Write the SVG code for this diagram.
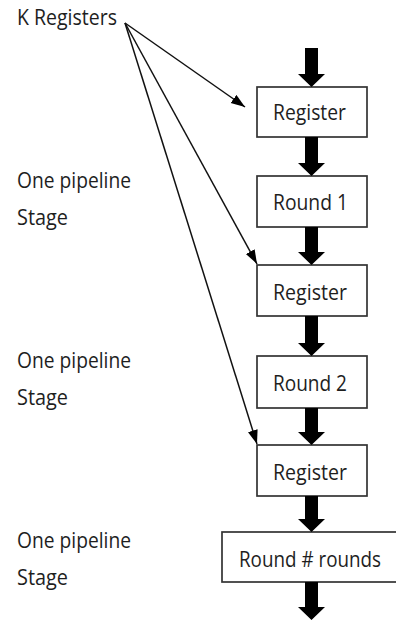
<svg xmlns="http://www.w3.org/2000/svg" width="396" height="624" viewBox="0 0 396 624">
<defs>
<style>
.bg{fill:#ffffff}
.box rect{fill:#ffffff;stroke:#333333;stroke-width:1.7}
text{font-family:"Open Sans","Noto Sans","Liberation Sans",sans-serif;font-size:21px;fill:#1e1e1e}
.thick{fill:#000000}
.thin{stroke:#111111;stroke-width:1.5;fill:none;marker-end:url(#ah)}
</style>
<marker id="ah" markerUnits="userSpaceOnUse" markerWidth="15" markerHeight="11" refX="14" refY="5" orient="auto">
<path d="M0,0 L14,5 L0,10 z" fill="#000000"/>
</marker>
</defs>
<rect class="bg" x="0" y="0" width="396" height="624"/>

<g id="label-k-registers"><text x="17" y="25" textLength="100" lengthAdjust="spacingAndGlyphs">K Registers</text></g>
<g id="label-stage-1"><text x="17" y="188" textLength="114" lengthAdjust="spacingAndGlyphs">One pipeline</text><text x="17" y="225" textLength="51" lengthAdjust="spacingAndGlyphs">Stage</text></g>
<g id="label-stage-2"><text x="17" y="368" textLength="114" lengthAdjust="spacingAndGlyphs">One pipeline</text><text x="17" y="405" textLength="51" lengthAdjust="spacingAndGlyphs">Stage</text></g>
<g id="label-stage-3"><text x="17" y="548" textLength="114" lengthAdjust="spacingAndGlyphs">One pipeline</text><text x="17" y="585" textLength="51" lengthAdjust="spacingAndGlyphs">Stage</text></g>

<g id="register-1" class="box"><rect x="257" y="87" width="110" height="50"/><text x="273" y="120" textLength="73" lengthAdjust="spacingAndGlyphs">Register</text></g>
<g id="round-1" class="box"><rect x="257" y="176" width="110" height="51"/><text x="273" y="210" textLength="75" lengthAdjust="spacingAndGlyphs">Round 1</text></g>
<g id="register-2" class="box"><rect x="257" y="265" width="110" height="51"/><text x="273" y="300" textLength="74" lengthAdjust="spacingAndGlyphs">Register</text></g>
<g id="round-2" class="box"><rect x="257" y="356" width="110" height="52"/><text x="273" y="391" textLength="74" lengthAdjust="spacingAndGlyphs">Round 2</text></g>
<g id="register-3" class="box"><rect x="257" y="445" width="110" height="51"/><text x="273" y="480" textLength="74" lengthAdjust="spacingAndGlyphs">Register</text></g>
<g id="round-n" class="box"><rect x="222" y="532" width="180" height="50"/><text x="239" y="567" textLength="142" lengthAdjust="spacingAndGlyphs">Round # rounds</text></g>

<g id="connectors">
<polygon class="thick" points="305,48 318,48 318,74 325,74 311.5,87 298,74 305,74"/>
<polygon class="thick" points="305,137 318,137 318,163 325,163 311.5,176 298,163 305,163"/>
<polygon class="thick" points="305,227 318,227 318,252 325,252 311.5,265 298,252 305,252"/>
<polygon class="thick" points="305,316 318,316 318,343 325,343 311.5,356 298,343 305,343"/>
<polygon class="thick" points="305,408 318,408 318,432 325,432 311.5,445 298,432 305,432"/>
<polygon class="thick" points="305,496 318,496 318,519 325,519 311.5,532 298,519 305,519"/>
<polygon class="thick" points="305,582 318,582 318,607 325,607 311.5,620 298,607 305,607"/>
<line class="thin" x1="125" y1="23" x2="245" y2="107"/>
<line class="thin" x1="125" y1="23" x2="257" y2="264"/>
<line class="thin" x1="125" y1="23" x2="257" y2="444"/>
</g>
</svg>
